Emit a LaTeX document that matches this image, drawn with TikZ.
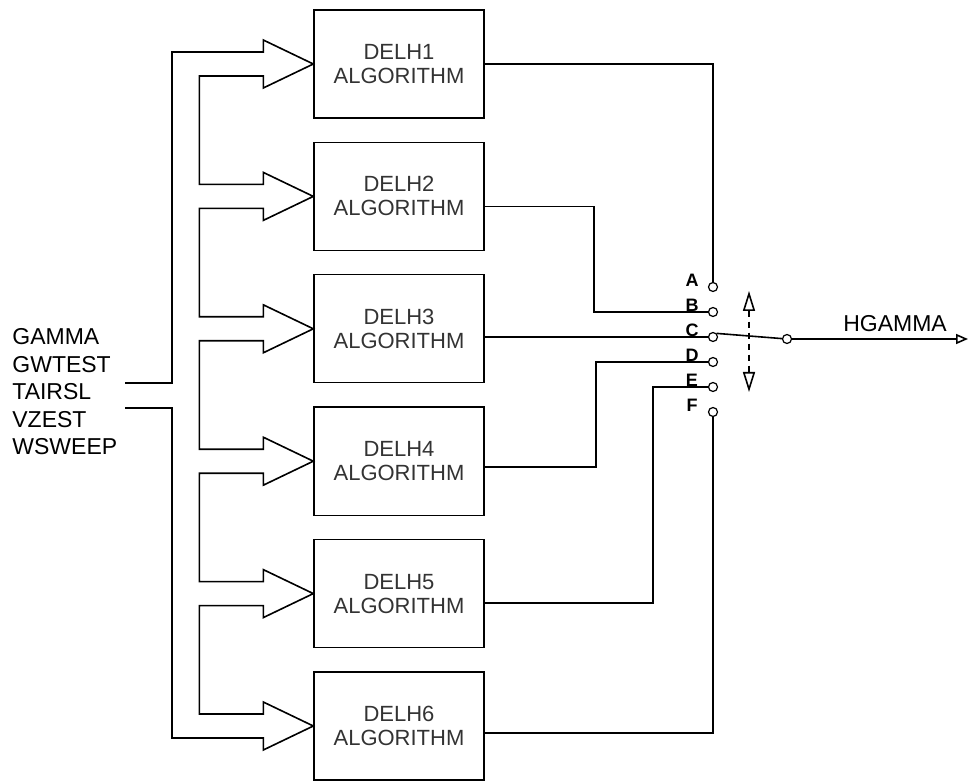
\documentclass[tikz,border=0pt]{standalone}
\usepackage{fontspec}
\setmainfont{Liberation Sans}
\usetikzlibrary{calc,arrows.meta}

\begin{document}
\begin{tikzpicture}[x=0.5pt,y=-0.5pt,
		algbox/.style={draw,line width=0.7pt,minimum width=85pt,minimum height=54pt,align=center,text=black!80,font=\fontsize{11}{12}\selectfont},
		contact/.style={draw,circle,line width=0.6pt,inner sep=0pt,minimum size=4.5pt},
		swlbl/.style={inner sep=0pt,font=\fontsize{9}{9}\selectfont\bfseries},
		bus/.style={line width=0.8pt},
		wire/.style={line width=0.8pt}]
		\useasboundingbox (0,0) rectangle (971,781);

		\foreach \i in {1,...,6}
			\node[algbox] (d\i) at (399,{64+132.4*(\i-1)}) {DELH\i\\ALGORITHM};

		\node[anchor=west,align=left,inner sep=0pt,font=\fontsize{11.5}{13.75}\selectfont] (inp) at (12,392) {GAMMA\\GWTEST\\TAIRSL\\VZEST\\WSWEEP};
		\coordinate (inU) at (125,383);
		\coordinate (inL) at (125,408);

		% switch contacts
		\foreach \c [count=\k from 0] in {A,B,C,D,E,F} {
			\node[contact] (s\c) at (713,{287+25*\k}) {};
			\node[swlbl] (l\c) at (692,{280+25*\k}) {\c};
		}
		\node[contact] (sP) at (787,339) {};
		\coordinate (out) at (968,339);
		\coordinate (swU) at (749,291);
		\coordinate (swD) at (749,392);
		\node[font=\fontsize{11.5}{12}\selectfont] (hg) at (895,324) {HGAMMA};

		% input bus
		\draw[bus] (inU) -- ++(47,0) |- ($(d1.west)+(-50,-12)$) -- ++(0,-12) -- (d1.west) -- ++(-50,24) -- ++(0,-12)
			\foreach \j in {2,...,6} { -| ($(d\j.west)+(-114,-12)$) -- ++(64,0) -- ++(0,-12) -- (d\j.west) -- ++(-50,24) -- ++(0,-12) }
			-| ($(inL)+(47,0)$) -- (inL);

		% outputs
		\draw[wire] (d1.east) -| (sA);
		\draw[wire] ([yshift=-5pt]d2.east) -- ++(109,0) |- (sB);
		\draw[wire] (d3.east |- sC) -- (sC);
		\draw[wire] ([yshift=-3pt]d4.east) -- ++(111,0) |- (sD);
		\draw[wire] ([yshift=-4.7pt]d5.east) -- ++(168,0) |- (sE);
		\draw[wire] ([yshift=-3.5pt]d6.east) -| (sF);

		\draw[wire] (sC.45) -- (sP);
		\draw[wire,-{Triangle[open,length=6pt,width=5pt]}] (sP) -- (out);
		\draw[wire,dash pattern=on 3pt off 2.5pt,{Triangle[open,length=10pt,width=6pt]}-{Triangle[open,length=10pt,width=6pt]}] (swU) -- (swD);
	\end{tikzpicture}
\end{document}
